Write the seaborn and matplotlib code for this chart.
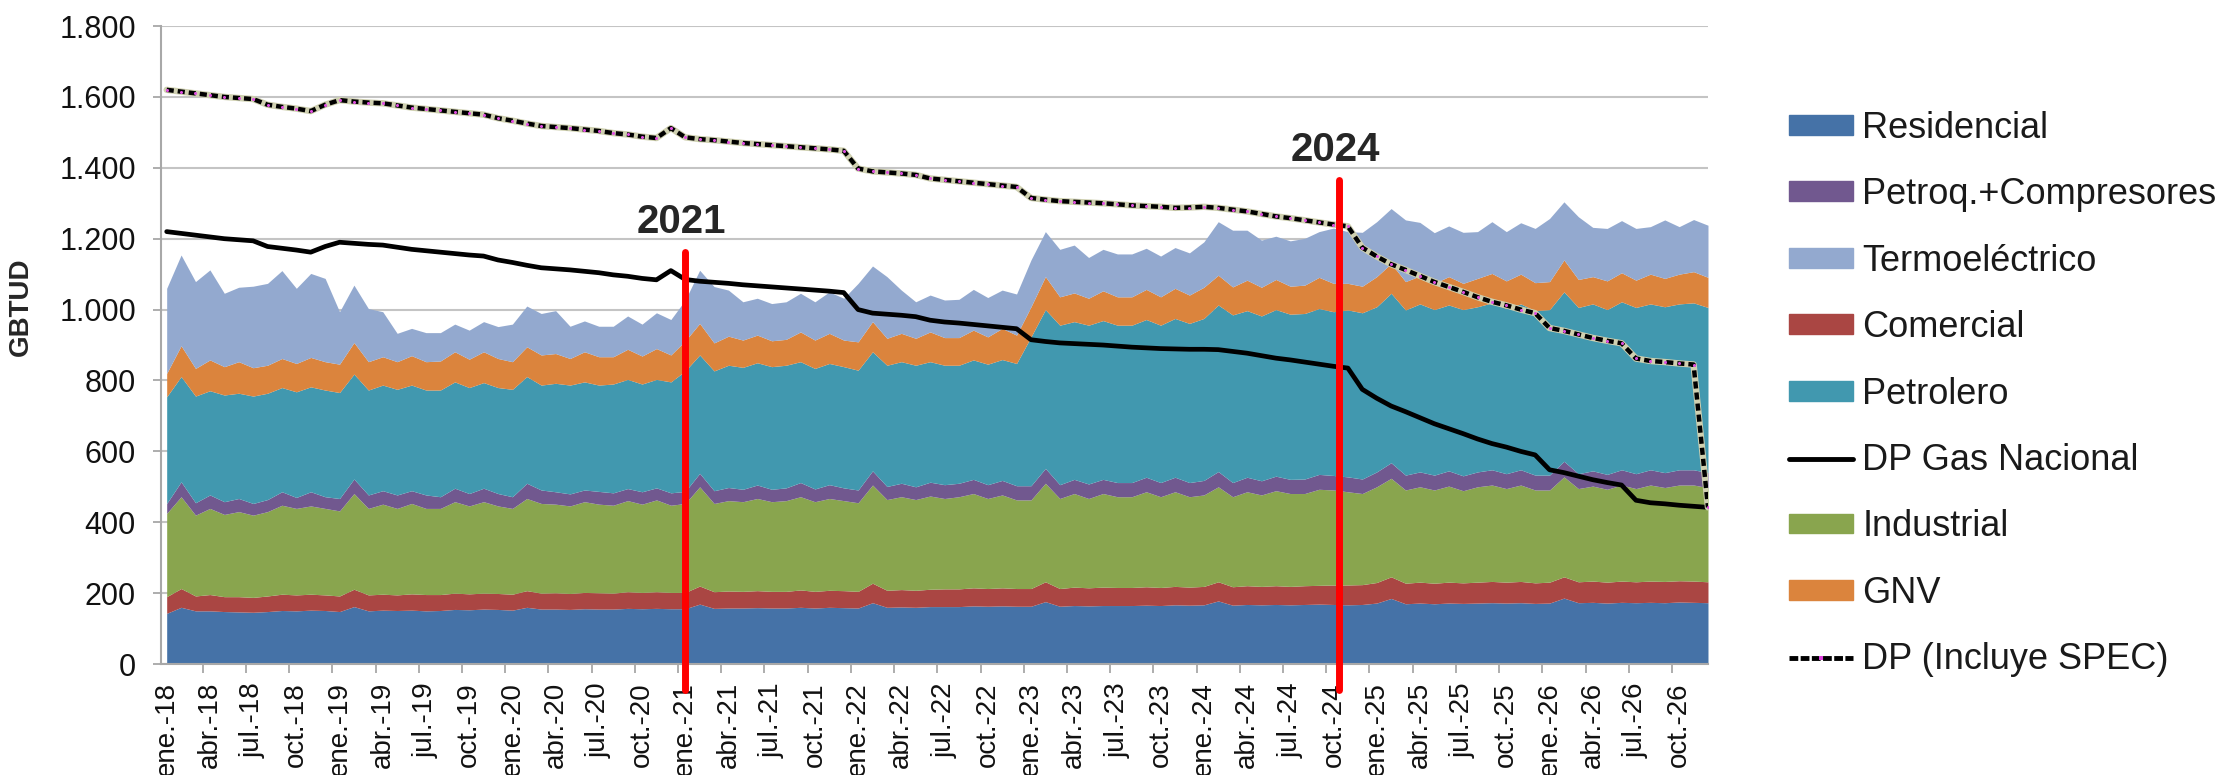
import matplotlib
matplotlib.use('agg')
import matplotlib.pyplot as plt
import seaborn as sns
from matplotlib.lines import Line2D
from matplotlib.patches import Patch
from matplotlib.ticker import FuncFormatter

# monthly demand by sector, ene-18 .. dic-26 (GBTUD)
residencial = [143, 160, 150, 150, 148, 147, 146, 148, 151, 150, 152, 151,
               148, 162, 150, 152, 151, 152, 150, 151, 154, 153, 155, 154,
               152, 160, 155, 155, 154, 156, 155, 155, 157, 156, 157, 156,
               156, 169, 157, 158, 158, 159, 158, 158, 160, 158, 160, 159,
               158, 173, 160, 161, 160, 162, 162, 162, 164, 163, 164, 163,
               163, 176, 163, 165, 164, 165, 165, 165, 166, 165, 167, 166,
               167, 178, 166, 168, 167, 168, 167, 168, 169, 168, 167, 168,
               172, 185, 170, 172, 170, 172, 171, 172, 173, 172, 173, 171,
               172, 186, 173, 174, 172, 174, 173, 174, 173, 175, 174, 173]
comercial = [47, 53, 42, 46, 42, 43, 42, 44, 46, 45, 45, 44,
             44, 49, 45, 45, 44, 46, 46, 45, 46, 45, 45, 45,
             45, 47, 45, 46, 45, 46, 46, 45, 47, 46, 47, 46,
             46, 51, 47, 48, 47, 48, 47, 47, 49, 47, 48, 48,
             47, 55, 48, 49, 48, 49, 50, 50, 51, 50, 51, 50,
             50, 56, 50, 52, 51, 52, 51, 51, 52, 51, 52, 51,
             52, 54, 52, 53, 52, 53, 52, 53, 53, 55, 56, 56,
             58, 61, 58, 59, 58, 59, 58, 59, 60, 59, 60, 58,
             59, 60, 59, 60, 59, 60, 59, 60, 60, 60, 60, 59]
industrial = [235, 259, 228, 243, 232, 240, 232, 238, 251, 244, 249, 244,
              240, 270, 244, 254, 244, 255, 243, 243, 258, 248, 258, 247,
              242, 260, 253, 250, 247, 256, 250, 248, 257, 249, 259, 246,
              251, 280, 249, 255, 253, 260, 253, 256, 263, 253, 259, 254,
              250, 277, 256, 262, 256, 263, 255, 260, 266, 254, 262, 250,
              250, 278, 254, 264, 252, 264, 256, 256, 268, 256, 267, 255,
              258, 268, 254, 265, 258, 268, 262, 260, 271, 268, 263, 257,
              270, 278, 263, 269, 263, 271, 260, 269, 272, 264, 272, 262,
              260, 282, 263, 268, 262, 271, 263, 271, 265, 270, 271, 266]
petroq = [28, 42, 35, 38, 36, 37, 33, 34, 38, 31, 40, 33,
          35, 41, 38, 38, 38, 36, 38, 33, 38, 35, 38, 35,
          33, 43, 38, 35, 34, 33, 36, 35, 34, 35, 34, 35,
          34, 38, 36, 37, 35, 38, 35, 36, 40, 36, 39, 36,
          36, 40, 37, 38, 36, 39, 39, 38, 40, 39, 41, 40,
          40, 42, 39, 40, 41, 40, 40, 40, 41, 40, 41, 40,
          41, 43, 40, 41, 40, 41, 40, 41, 42, 41, 42, 41,
          42, 44, 42, 42, 42, 43, 42, 42, 43, 42, 43, 42,
          42, 44, 42, 43, 42, 43, 42, 43, 42, 43, 43, 42]
petrolero = [301, 297, 301, 294, 301, 297, 303, 300, 294, 298, 296, 301,
             299, 296, 296, 298, 298, 298, 296, 301, 300, 299, 298, 299,
             303, 301, 296, 306, 307, 305, 300, 307, 308, 304, 306, 313,
             340, 334, 338, 345, 344, 345, 346, 346, 341, 340, 342, 342,
             338, 336, 342, 343, 343, 340, 337, 333, 337, 340, 341, 345,
             420, 448, 450, 445, 448, 448, 444, 444, 445, 444, 448, 449,
             457, 470, 473, 470, 465, 470, 466, 467, 468, 462, 471, 469,
             466, 478, 466, 474, 467, 468, 469, 466, 471, 466, 468, 464,
             467, 478, 469, 471, 465, 474, 469, 468, 468, 468, 471, 466]
gnv = [66, 87, 78, 87, 80, 89, 80, 79, 82, 80, 83, 80,
       80, 89, 80, 80, 78, 83, 80, 82, 85, 80, 87, 82,
       78, 84, 85, 84, 75, 85, 80, 77, 85, 79, 87, 76,
       85, 89, 79, 82, 77, 78, 73, 73, 84, 80, 85, 75,
       80, 85, 76, 80, 76, 84, 78, 78, 84, 77, 88, 80,
       85, 93, 80, 81, 76, 84, 80, 80, 85, 80, 85, 80,
       88, 84, 79, 86, 81, 85, 79, 80, 88, 80, 75, 75,
       85, 84, 80, 79, 74, 80, 74, 80, 83, 78, 84, 79,
       79, 90, 79, 77, 81, 82, 77, 84, 80, 84, 88, 85]
termo = [240, 256, 245, 254, 207, 210, 230, 231, 248, 212, 237, 235,
         148, 162, 150, 127, 80, 77, 82, 80, 78, 82, 85, 90,
         106, 115, 117, 121, 91, 87, 86, 86, 94, 90, 101, 100,
         115, 150, 159, 130, 108, 104, 105, 106, 109, 108, 117, 118,
         165, 157, 174, 122, 103, 104, 106, 108, 115, 111, 108, 116,
         132, 127, 134, 135, 115, 117, 121, 121, 116, 115, 115, 119,
         128, 151, 160, 141, 133, 122, 128, 132, 129, 156, 146, 152,
         155, 155, 174, 151, 143, 143, 144, 132, 146, 139, 145, 153,
         178, 164, 177, 139, 148, 147, 146, 134, 165, 134, 147, 147]

# supply lines
dp_gas = [1220, 1215, 1210, 1205, 1200, 1197, 1194, 1178, 1173, 1168, 1162, 1178,
          1190, 1187, 1184, 1182, 1176, 1170, 1166, 1162, 1158, 1154, 1151, 1140,
          1133, 1125, 1118, 1115, 1112, 1108, 1104, 1098, 1094, 1088, 1084, 1110,
          1085, 1080, 1077, 1074, 1070, 1067, 1064, 1061, 1058, 1055, 1052, 1048,
          1000, 990, 987, 984, 980, 970, 965, 962, 958, 954, 950, 946,
          915, 910, 906, 904, 902, 900, 897, 894, 892, 890, 889, 888,
          888, 887, 882, 877, 870, 863, 858, 852, 846, 840, 835, 775,
          750, 728, 712, 695, 678, 664, 650, 635, 622, 612, 600, 590,
          548, 540, 530, 520, 512, 505, 462, 455, 452, 448, 445, 442]
dp_spec = [1620, 1615, 1610, 1605, 1600, 1597, 1594, 1578, 1572, 1567, 1560, 1578,
           1591, 1587, 1584, 1582, 1576, 1570, 1566, 1562, 1558, 1554, 1550, 1540,
           1533, 1525, 1518, 1515, 1512, 1508, 1504, 1498, 1494, 1488, 1484, 1512,
           1486, 1481, 1478, 1474, 1470, 1467, 1464, 1461, 1458, 1455, 1452, 1448,
           1398, 1390, 1387, 1384, 1380, 1370, 1366, 1362, 1358, 1354, 1350, 1346,
           1315, 1310, 1306, 1304, 1302, 1300, 1297, 1294, 1292, 1290, 1287, 1288,
           1290, 1287, 1282, 1277, 1270, 1263, 1258, 1252, 1246, 1240, 1235, 1175,
           1150, 1128, 1112, 1095, 1078, 1064, 1050, 1035, 1022, 1012, 1000, 990,
           948, 940, 930, 920, 912, 905, 862, 855, 852, 848, 845, 442]

# vertical year markers
marker_years = ['2021', '2024']
marker_month = [36.0, 81.4]
marker_top = [1163, 1365]

months = list(range(len(residencial)))
tick_labels = [f'{m}-{y}' for y in range(18, 27) for m in ['ene.', 'abr.', 'jul.', 'oct.']]

sns.set_theme(style='white')
plt.rcParams['font.family'] = ['Liberation Sans', 'DejaVu Sans']

c_res, c_com, c_ind = '#4572A7', '#AA4643', '#89A54E'
c_ptq, c_pet, c_gnv, c_ter = '#71588F', '#4198AF', '#DB843D', '#93A9CF'

fig = plt.figure(figsize=(22.35, 7.75), dpi=100)
ax = fig.add_axes([0.0720, 0.1432, 0.6922, 0.8232])

ax.stackplot(months, residencial, comercial, industrial, petroq, petrolero, gnv, termo,
             colors=[c_res, c_com, c_ind, c_ptq, c_pet, c_gnv, c_ter], linewidth=0, zorder=2)

sns.lineplot(x=months, y=dp_gas, color='black', linewidth=3.4, ax=ax, zorder=4)
sns.lineplot(x=months, y=dp_spec, color='#cfd0b0', linewidth=4.6, ax=ax, zorder=4)
sns.lineplot(x=months, y=dp_spec, color='black', linewidth=3.2, linestyle=(0, (1.6, 0.9)),
             marker='o', markersize=2.2, markerfacecolor='#e050e0', markeredgewidth=0,
             ax=ax, zorder=5)

for yr, mx, top in zip(marker_years, marker_month, marker_top):
    ax.plot([mx, mx], [-73, top], color='#ff0000', linewidth=5, clip_on=False, zorder=6)
    ax.text(mx - 0.3, top + 85, yr, fontsize=29, fontweight='bold', ha='center', va='center',
            zorder=7)

ax.set_xlim(-0.4, 107)
ax.set_ylim(0, 1800)
ax.set_yticks(range(0, 1801, 200))
ax.yaxis.set_major_formatter(FuncFormatter(lambda v, p: f'{int(v):,}'.replace(',', '.')))
ax.set_xticks(months[::3])
ax.set_xticklabels(tick_labels, rotation=90)
ax.set_xticks([3 * k - 0.5 for k in range(1, 36)], minor=True)

ax.grid(axis='y', color='#c4c4c4', linewidth=1.5)
ax.set_axisbelow(True)
ax.tick_params(axis='x', which='major', length=0, pad=13, labelsize=20, labelcolor='#111111')
ax.tick_params(axis='x', which='minor', length=6.5, width=1.2, color='#a0a0a0',
               direction='out', bottom=True)
ax.tick_params(axis='y', length=6, width=1.2, color='#a0a0a0', direction='out', left=True,
               pad=12, labelsize=22, labelcolor='#111111')
for side in ['top', 'right']:
    ax.spines[side].set_visible(False)
for side in ['left', 'bottom']:
    ax.spines[side].set_color('#a8a8a8')
    ax.spines[side].set_linewidth(1.5)

ax.set_ylabel('GBTUD', fontsize=20, fontweight='bold')
ax.yaxis.set_label_coords(-0.082, 0.56)

handles = [Patch(color=c_res), Patch(color=c_ptq), Patch(color=c_ter), Patch(color=c_com),
           Patch(color=c_pet), Line2D([], [], color='black', linewidth=3.5),
           Patch(color=c_ind), Patch(color=c_gnv),
           Line2D([], [], color='black', linewidth=3.5, linestyle=(0, (1.8, 0.5)), marker='s',
                  markersize=3, markerfacecolor='#e040e0', markeredgewidth=0)]
labels = ['Residencial', 'Petroq.+Compresores', 'Termoeléctrico', 'Comercial', 'Petrolero',
          'DP Gas Nacional', 'Industrial', 'GNV', 'DP (Incluye SPEC)']
leg = fig.legend(handles, labels, loc='center left', bbox_to_anchor=(0.8005, 0.4916),
                 frameon=False, fontsize=26, handlelength=1.78, handleheight=0.47,
                 handletextpad=0.25, labelspacing=0.87, borderaxespad=0, borderpad=0)
for t in leg.get_texts():
    t.set_color('#1a1a1a')

fig.savefig('out.png', dpi=100)
